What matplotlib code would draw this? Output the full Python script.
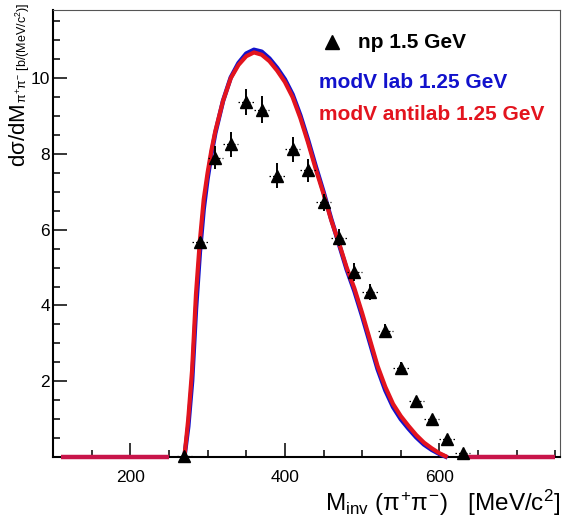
import numpy as np
import matplotlib
matplotlib.use("Agg")
import matplotlib.pyplot as plt
from matplotlib.ticker import MultipleLocator

plt.rcParams['font.family'] = ['Liberation Sans', 'DejaVu Sans']
plt.rcParams['mathtext.fontset'] = 'custom'
plt.rcParams['mathtext.rm'] = 'Liberation Sans'
plt.rcParams['mathtext.it'] = 'Liberation Sans'
plt.rcParams['mathtext.bf'] = 'Liberation Sans:bold'

# --- measured np 1.5 GeV spectrum (bin centres in MeV/c^2) ---
data_m = [270, 290, 310, 330, 350, 370, 390, 410, 430, 450,
          470, 490, 510, 530, 550, 570, 590, 610, 630]
data_y = [0.02, 5.68, 7.90, 8.25, 9.37, 9.17, 7.42, 8.12, 7.57, 6.72,
          5.79, 4.89, 4.36, 3.33, 2.36, 1.47, 1.00, 0.47, 0.11]
data_err = [0.02, 0.12, 0.30, 0.32, 0.35, 0.35, 0.33, 0.32, 0.30, 0.22,
            0.22, 0.24, 0.22, 0.18, 0.15, 0.12, 0.10, 0.08, 0.04]
bin_half_width = 10

# --- model curves ---
model_m = [270, 275, 280, 285, 290, 295, 300, 305, 310, 320, 330, 340,
           350, 360, 370, 380, 390, 400, 410, 420, 430, 440, 450, 460,
           470, 480, 490, 500, 510, 520, 530, 540, 550, 560, 570, 580,
           590, 600, 608]
lab_y = [0.0, 0.8, 2.0, 3.9, 5.4, 6.55, 7.35, 8.0, 8.55, 9.4, 10.02, 10.4,
         10.65, 10.75, 10.7, 10.52, 10.27, 9.97, 9.57, 9.02, 8.37, 7.67, 7.0, 6.28,
         5.62, 4.95, 4.38, 3.72, 3.02, 2.32, 1.76, 1.32, 1.0, 0.75, 0.52, 0.33,
         0.19, 0.08, 0.01]
antilab_y = [0.0, 1.0, 2.3, 4.3, 5.7, 6.8, 7.5, 8.1, 8.6, 9.4, 10.0, 10.35,
             10.58, 10.68, 10.62, 10.45, 10.2, 9.9, 9.5, 8.95, 8.3, 7.6, 6.95, 6.25,
             5.65, 5.0, 4.45, 3.8, 3.1, 2.4, 1.85, 1.4, 1.08, 0.82, 0.58, 0.38,
             0.23, 0.1, 0.02]
zero_ranges = [(110, 250), (630, 750)]

x_ticks_major = [200, 400, 600]
y_ticks_major = [2, 4, 6, 8, 10]

BLUE = '#1212cc'
RED = '#e3141e'
FLAT = '#c8154a'

W, H = 564, 519
fig = plt.figure(figsize=(W / 100, H / 100), dpi=100)
ax = fig.add_axes([53 / W, 1 - 457 / H, (560 - 53) / W, (457 - 10) / H])

ax.set_xlim(100, 756)
ax.set_ylim(0, 11.8)

# model curves, blue underneath red
ax.plot(model_m, lab_y, color=BLUE, lw=3.2, clip_on=False, zorder=3)
ax.plot(model_m, antilab_y, color=RED, lw=3.0, clip_on=False, zorder=4)
for a, b in zero_ranges:
    ax.plot([a, b], [0, 0], color=FLAT, lw=3.2, clip_on=False, zorder=4,
            solid_capstyle='butt')

# data with error bars
ax.errorbar(data_m, data_y, yerr=data_err, fmt='none', ecolor='black',
            elinewidth=1.4, capsize=0, zorder=5, clip_on=False)
hb = ax.errorbar(data_m, data_y, xerr=bin_half_width, fmt='none', ecolor='black',
                 elinewidth=0.9, capsize=0, zorder=5, clip_on=False)
for c in hb[2]:
    c.set_linestyle((0, (1.2, 1.6)))
ax.plot(data_m, data_y, linestyle='none', marker='^', ms=8.5, color='black',
        zorder=6, clip_on=False)

# axes styling
ax.set_xticks(x_ticks_major)
ax.set_yticks(y_ticks_major)
ax.xaxis.set_minor_locator(MultipleLocator(50))
ax.yaxis.set_minor_locator(MultipleLocator(0.5))
ax.tick_params(which='major', direction='in', length=10, width=1.1,
               labelsize=12.5, top=False, right=False)
ax.tick_params(axis='x', which='major', pad=9)
ax.tick_params(axis='y', which='major', pad=2)
ax.tick_params(which='minor', direction='in', length=5, width=1.1,
               top=False, right=False)
for s in ('left', 'bottom'):
    ax.spines[s].set_linewidth(1.5)
for s in ('top', 'right'):
    ax.spines[s].set_linewidth(0.8)
    ax.spines[s].set_color('#555555')

# x-axis title
fig.text(560 / W, 1 - 511 / H,
         r'M$_{\rm inv}$ ($\pi^{+}\pi^{-}$)   [MeV/c$^{2}$]',
         ha='right', va='baseline', fontsize=17.5)

# y-axis title: large quantity, small subscript with units
fig.canvas.draw()
r = fig.canvas.get_renderer()
ysub = fig.text(27.5 / W, 1 - 3 / H, r'$\pi^{+}\pi^{-}$ [b/(MeV/c$^{2}$)]',
                rotation=90, rotation_mode='anchor', ha='right', va='baseline',
                fontsize=9.0)
bb = ysub.get_window_extent(r)
ybig = fig.text(25 / W, bb.y0 / H, r'd$\sigma$/dM',
                rotation=90, rotation_mode='anchor', ha='right', va='baseline',
                fontsize=16)

# legend
fig.text(358 / W, 1 - 48 / H, 'np 1.5 GeV', fontsize=15, fontweight='bold',
         color='black', ha='left', va='baseline')
fig.lines.append(plt.Line2D([331.7 / W], [1 - 42 / H], marker='^', ms=10,
                            color='black', linestyle='none',
                            transform=fig.transFigure, figure=fig))
fig.text(319 / W, 1 - 88 / H, 'modV lab 1.25 GeV', fontsize=15,
         fontweight='bold', color=BLUE, ha='left', va='baseline')
fig.text(319 / W, 1 - 120 / H, 'modV antilab 1.25 GeV', fontsize=15,
         fontweight='bold', color=RED, ha='left', va='baseline')

fig.savefig('out.png', dpi=100)
